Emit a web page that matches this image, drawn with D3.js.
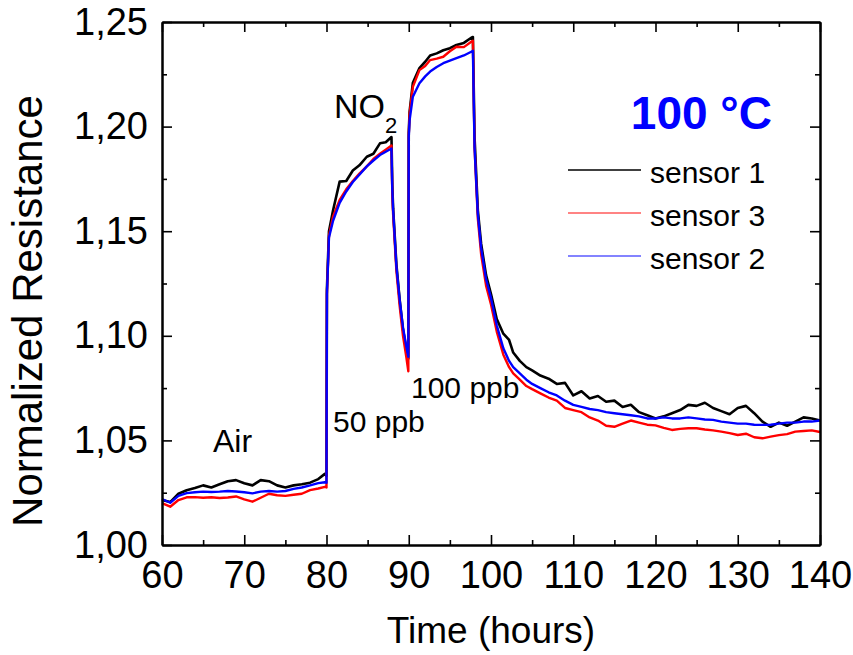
<!DOCTYPE html>
<html>
<head>
<meta charset="utf-8">
<script src="https://cdn.jsdelivr.net/npm/d3@7"></script>
<style>
  body { margin: 0; background: #fff; }
  svg { display: block; font-family: "Liberation Sans", Arial, sans-serif; }
</style>
</head>
<body>
<div id="chart"></div>
<script>
// time axis (hours), shared by all sensors
const hours = [60,61,62,63,64,65,66,67,68,69,70,71,72,73,74,75,76,77,78,79,
  79.8,80.0,
  80.05,80.3,80.8,81.6,82.4,83.2,84,84.9,85.7,86.5,87.2,87.9,
  88.0,88.1,88.5,88.9,89.3,89.7,89.95,
  90.0,90.1,90.5,91.3,92,92.6,93.4,94.2,95,95.8,96.7,97.6,
  97.8,98.0,98.4,98.8,99.4,100,100.7,101.5,102.2,102.7,103.5,104.3,
  105,106,107,108,109,110,111,112,113,114,115,116,117,118,119,120,
  121,122,123,124,125,126,127,128,129,130,131,132,133,134,135,136,137,138,139,140];

const sensor1 = [1.0215,1.0205,1.0245,1.0262,1.0272,1.0285,1.0275,1.029,1.0305,1.031,1.0295,1.0285,1.031,1.0305,1.0285,1.0275,1.0285,1.029,1.0298,1.0315,
  1.034,1.033,
  1.122,1.150,1.160,1.1737,1.174,1.179,1.1815,1.1856,1.187,1.192,1.1925,1.195,
  1.172,1.161,1.134,1.117,1.103,1.094,1.089,
  1.197,1.207,1.221,1.228,1.231,1.234,1.235,1.2365,1.2375,1.239,1.240,1.2425,
  1.2428,1.195,1.160,1.144,1.129,1.120,1.108,1.101,1.098,1.092,1.088,1.085,
  1.0835,1.081,1.0795,1.077,1.0775,1.0715,1.0735,1.070,1.0712,1.0685,1.069,1.066,1.067,1.0635,1.062,1.0605,
  1.0615,1.063,1.0645,1.067,1.0665,1.068,1.0655,1.064,1.0625,1.0655,1.0665,1.063,1.059,1.0565,1.0585,1.057,1.059,1.061,1.0605,1.0595];

const sensor3 = [1.020,1.0183,1.0215,1.0228,1.0229,1.0226,1.0228,1.0225,1.0227,1.0232,1.0218,1.0207,1.0226,1.0245,1.0238,1.0235,1.0240,1.0245,1.0262,1.0270,
  1.0278,1.0275,
  1.120,1.148,1.157,1.165,1.170,1.174,1.1775,1.181,1.1845,1.187,1.189,1.191,
  1.168,1.158,1.131,1.114,1.100,1.090,1.083,
  1.196,1.206,1.219,1.227,1.229,1.2318,1.2325,1.2334,1.236,1.2382,1.238,1.2406,
  1.241,1.19,1.156,1.139,1.124,1.115,1.102,1.091,1.085,1.082,1.079,1.076,
  1.0745,1.0725,1.0705,1.069,1.0655,1.0645,1.0635,1.061,1.0595,1.057,1.0565,1.058,1.0595,1.0585,1.0575,1.0572,
  1.056,1.055,1.0555,1.0558,1.0558,1.0552,1.0548,1.0542,1.0535,1.0526,1.0532,1.0515,1.051,1.0518,1.0525,1.053,1.0542,1.0545,1.0548,1.054];

const sensor2 = [1.022,1.0202,1.0235,1.0248,1.0252,1.0255,1.0253,1.0255,1.0258,1.0256,1.0252,1.0247,1.0255,1.0258,1.0255,1.0258,1.0268,1.0275,1.0285,1.0296,
  1.030,1.0298,
  1.120,1.147,1.155,1.1635,1.169,1.1735,1.177,1.181,1.1838,1.1864,1.188,1.1895,
  1.170,1.160,1.133,1.117,1.104,1.095,1.090,
  1.195,1.203,1.2143,1.2207,1.224,1.2263,1.2285,1.2303,1.2315,1.2327,1.234,1.2358,
  1.2362,1.19,1.158,1.142,1.127,1.118,1.105,1.094,1.088,1.085,1.082,1.079,
  1.077,1.075,1.073,1.0715,1.069,1.067,1.066,1.065,1.0645,1.0635,1.063,1.0625,1.062,1.0615,1.0605,1.0605,
  1.061,1.0605,1.0605,1.061,1.0605,1.060,1.0598,1.059,1.0585,1.058,1.058,1.0575,1.0574,1.0575,1.058,1.0585,1.0585,1.059,1.059,1.0595];

const xTicks = [60,70,80,90,100,110,120,130,140];
const xMinor = [65,75,85,95,105,115,125,135];
const yTicks = [1.00,1.05,1.10,1.15,1.20,1.25];
const yMinor = [1.025,1.075,1.125,1.175,1.225];

// drawn in this order: black under red under blue
const series = [
  { name: "sensor 1", values: sensor1, color: "#000000", width: 2.6 },
  { name: "sensor 3", values: sensor3, color: "#ff0000", width: 2.4 },
  { name: "sensor 2", values: sensor2, color: "#0000ff", width: 2.4 }
];
const legendOrder = ["sensor 1", "sensor 3", "sensor 2"];

const W = 853, H = 655;
const plot = { left: 162, right: 820, top: 22, bottom: 545 };

const svg = d3.select("#chart").append("svg")
  .attr("width", W).attr("height", H);

const x = d3.scaleLinear().domain([60, 140]).range([plot.left, plot.right]);
const y = d3.scaleLinear().domain([1.00, 1.25]).range([plot.bottom, plot.top]);

const fmtY = d => d3.format(".2f")(d).replace(".", ",");

// lines
const line = d3.line()
  .x((d, i) => x(hours[i]))
  .y(d => y(d));

svg.append("g").selectAll("path")
  .data(series)
  .enter().append("path")
  .attr("d", d => line(d.values))
  .attr("fill", "none")
  .attr("stroke", d => d.color)
  .attr("stroke-width", d => d.width)
  .attr("stroke-linejoin", "round");

// axes (ticks pointing inward)
function styleAxis(g, size) {
  g.select(".domain").attr("stroke-width", 2);
  g.selectAll(".tick line").attr("stroke-width", 1.6);
  g.selectAll(".tick text").attr("font-size", size).attr("fill", "#000");
}

svg.append("g")
  .attr("transform", `translate(0,${plot.bottom})`)
  .call(d3.axisBottom(x).tickValues(xTicks).tickSizeInner(-10).tickSizeOuter(0).tickPadding(16))
  .call(g => styleAxis(g, 38));
svg.append("g")
  .attr("transform", `translate(0,${plot.bottom})`)
  .call(d3.axisBottom(x).tickValues(xMinor).tickSizeInner(-5).tickSizeOuter(0).tickFormat(""))
  .call(g => styleAxis(g, 0));

svg.append("g")
  .attr("transform", `translate(${plot.left},0)`)
  .call(d3.axisLeft(y).tickValues(yTicks).tickSizeInner(-10).tickSizeOuter(0).tickPadding(14).tickFormat(fmtY))
  .call(g => styleAxis(g, 38));
svg.append("g")
  .attr("transform", `translate(${plot.left},0)`)
  .call(d3.axisLeft(y).tickValues(yMinor).tickSizeInner(-5).tickSizeOuter(0).tickFormat(""))
  .call(g => styleAxis(g, 0));

// mirrored top and right axes
svg.append("g")
  .attr("transform", `translate(0,${plot.top})`)
  .call(d3.axisTop(x).tickValues(xTicks).tickSizeInner(-10).tickSizeOuter(0).tickFormat(""))
  .call(g => styleAxis(g, 0));
svg.append("g")
  .attr("transform", `translate(0,${plot.top})`)
  .call(d3.axisTop(x).tickValues(xMinor).tickSizeInner(-5).tickSizeOuter(0).tickFormat(""))
  .call(g => styleAxis(g, 0));
svg.append("g")
  .attr("transform", `translate(${plot.right},0)`)
  .call(d3.axisRight(y).tickValues(yTicks).tickSizeInner(-10).tickSizeOuter(0).tickFormat(""))
  .call(g => styleAxis(g, 0));
svg.append("g")
  .attr("transform", `translate(${plot.right},0)`)
  .call(d3.axisRight(y).tickValues(yMinor).tickSizeInner(-5).tickSizeOuter(0).tickFormat(""))
  .call(g => styleAxis(g, 0));

// axis titles
svg.append("text")
  .attr("x", (plot.left + plot.right) / 2)
  .attr("y", 643)
  .attr("text-anchor", "middle")
  .attr("font-size", 37)
  .text("Time (hours)");

svg.append("text")
  .attr("transform", "translate(42,311) rotate(-90)")
  .attr("text-anchor", "middle")
  .attr("font-size", 42)
  .text("Normalized Resistance");

// annotations
svg.append("text").attr("x", 213).attr("y", 452).attr("font-size", 32).text("Air");
svg.append("text").attr("x", 333).attr("y", 432).attr("font-size", 30).text("50 ppb");
svg.append("text").attr("x", 411).attr("y", 398).attr("font-size", 30).text("100 ppb");
const no2 = svg.append("text").attr("x", 334).attr("y", 118).attr("font-size", 34);
no2.append("tspan").text("NO");
no2.append("tspan").attr("font-size", 22).attr("dy", 15).text("2");

svg.append("text")
  .attr("x", 772).attr("y", 129)
  .attr("text-anchor", "end")
  .attr("font-size", 46)
  .attr("font-weight", "bold")
  .attr("fill", "#0000ff")
  .text("100 °C");

// legend
const legend = svg.append("g");
const legendItems = legendOrder.map(n => series.find(s => s.name === n));
const ly = d3.scaleLinear().domain([0, 1]).range([170, 213]);
legend.selectAll("line")
  .data(legendItems)
  .enter().append("line")
  .attr("x1", 568).attr("x2", 641)
  .attr("y1", (d, i) => ly(i)).attr("y2", (d, i) => ly(i))
  .attr("stroke", d => d.color)
  .attr("stroke-opacity", d => d.color === "#000000" ? 1 : 0.65)
  .attr("stroke-width", 1.3);
legend.selectAll("text")
  .data(legendItems)
  .enter().append("text")
  .attr("x", 650)
  .attr("y", (d, i) => ly(i) + 13)
  .attr("font-size", 30)
  .text(d => d.name);
</script>
</body>
</html>
